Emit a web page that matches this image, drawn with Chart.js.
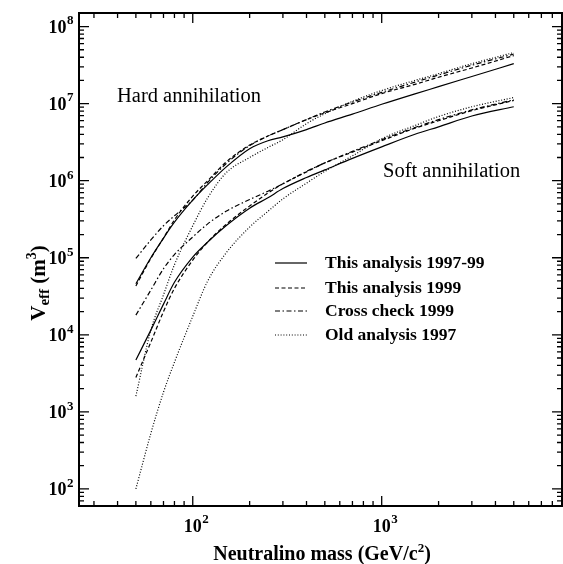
<!DOCTYPE html>
<html>
<head>
<meta charset="utf-8">
<script src="https://cdn.jsdelivr.net/npm/chart.js@4.4.0/dist/chart.umd.min.js"></script>
<style>
  html, body { margin: 0; padding: 0; background: #fff; }
  #wrap { width: 563px; height: 564px; position: relative; }
</style>
</head>
<body>
<div id="wrap"><canvas id="veff"></canvas></div>
<script>
const masses = [50, 60, 70, 80, 100, 120, 150, 200, 250, 300, 400, 500, 700, 1000, 1500, 2000, 3000, 5000];

// effective volume (m^3), hard annihilation channel
const hardThis9799 = [4.6e4, 1.0e5, 1.8e5, 2.9e5, 5.6e5, 8.9e5, 1.5e6, 2.6e6, 3.3e6, 3.7e6, 4.6e6, 5.6e6, 7.3e6, 9.8e6, 1.34e7, 1.66e7, 2.25e7, 3.3e7];
const hardThis99   = [4.3e4, 9.8e4, 1.8e5, 3.1e5, 6.3e5, 1.0e6, 1.74e6, 2.9e6, 3.8e6, 4.6e6, 6.2e6, 7.6e6, 1.0e7, 1.35e7, 1.78e7, 2.2e7, 2.9e7, 4.2e7];
const hardCross99  = [9.8e4, 1.7e5, 2.6e5, 3.5e5, 5.6e5, 9.5e5, 1.66e6, 2.85e6, 3.8e6, 4.6e6, 6.2e6, 7.8e6, 1.05e7, 1.4e7, 1.9e7, 2.35e7, 3.15e7, 4.4e7];
const hardOld97    = [1.6e3, 1.15e4, 3.3e4, 8.1e4, 2.6e5, 6.0e5, 1.26e6, 2.0e6, 2.7e6, 3.4e6, 5.5e6, 7.4e6, 1.07e7, 1.48e7, 2.0e7, 2.45e7, 3.3e7, 4.6e7];

// effective volume (m^3), soft annihilation channel
const softThis9799 = [4.7e3, 1.15e4, 2.5e4, 4.8e4, 1.02e5, 1.6e5, 2.6e5, 4.4e5, 6.0e5, 7.9e5, 1.1e6, 1.38e6, 1.95e6, 2.75e6, 4.0e6, 5.0e6, 6.9e6, 9.1e6];
const softThis99   = [2.8e3, 8.0e3, 2.0e4, 4.0e4, 9.3e4, 1.6e5, 2.7e5, 4.7e5, 6.9e5, 9.1e5, 1.3e6, 1.7e6, 2.35e6, 3.3e6, 4.8e6, 6.0e6, 8.1e6, 1.1e7];
const softCross99  = [1.8e4, 3.8e4, 7.2e4, 1.1e5, 1.86e5, 2.75e5, 4.0e5, 5.7e5, 7.3e5, 9.1e5, 1.32e6, 1.7e6, 2.4e6, 3.4e6, 4.9e6, 6.2e6, 8.3e6, 1.12e7];
const softOld97    = [100, 525, 1.8e3, 4.4e3, 1.74e4, 5.0e4, 1.15e5, 2.5e5, 4.0e5, 5.8e5, 9.3e5, 1.32e6, 2.1e6, 3.5e6, 5.2e6, 6.8e6, 9.1e6, 1.2e7];

const seriesNames = ['This analysis 1997-99', 'This analysis 1999', 'Cross check 1999', 'Old analysis 1997'];

// axis ranges and labelled powers of ten
const xRange = [25, 9000];
const yRange = [60, 1.5e8];
const xPowers = [2, 3];
const yPowers = [2, 3, 4, 5, 6, 7, 8];

const SERIF = "'Liberation Serif', 'Times New Roman', serif";
const dashes = [[], [4, 2.5], [5, 2.5, 1.5, 2.5], [1, 1.8]];

const groups = [
  [hardThis9799, hardThis99, hardCross99, hardOld97],
  [softThis9799, softThis99, softCross99, softOld97]
];
const datasets = [];
groups.forEach((g, gi) => {
  g.forEach((vals, i) => {
    datasets.push({
      label: seriesNames[i] + (gi ? ' (soft)' : ' (hard)'),
      data: masses.map((m, k) => ({ x: m, y: vals[k] })),
      borderColor: '#000',
      borderWidth: 1.2,
      borderDash: dashes[i],
      pointRadius: 0,
      fill: false,
      cubicInterpolationMode: 'monotone'
    });
  });
});

// draws "10" with a raised exponent
function pow10(ctx, exp, x, y, align) {
  ctx.font = 'bold 18px ' + SERIF;
  const wb = ctx.measureText('10').width;
  ctx.font = 'bold 13px ' + SERIF;
  const we = ctx.measureText(String(exp)).width;
  let x0 = align === 'right' ? x - wb - we : x - wb / 2;
  ctx.textAlign = 'left';
  ctx.textBaseline = 'middle';
  ctx.font = 'bold 18px ' + SERIF;
  ctx.fillText('10', x0, y);
  ctx.font = 'bold 13px ' + SERIF;
  ctx.fillText(String(exp), x0 + wb + 0.5, y - 7);
}

// draws a run of text pieces (size, vertical shift) centred at 0,0
function rich(ctx, parts) {
  let w = 0;
  parts.forEach(p => { ctx.font = 'bold ' + p.s + 'px ' + SERIF; p.w = ctx.measureText(p.t).width; w += p.w; });
  let x = -w / 2;
  ctx.textAlign = 'left';
  ctx.textBaseline = 'alphabetic';
  parts.forEach(p => {
    ctx.font = 'bold ' + p.s + 'px ' + SERIF;
    ctx.fillText(p.t, x, 7 + (p.dy || 0));
    x += p.w;
  });
}

function logTicks(min, max) {
  const out = [];
  for (let d = Math.floor(Math.log10(min)); d <= Math.ceil(Math.log10(max)); d++) {
    for (let k = 1; k < 10; k++) {
      const v = k * Math.pow(10, d);
      if (v >= min && v <= max) out.push({ v, major: k === 1 });
    }
  }
  return out;
}

const framePlugin = {
  id: 'frame',
  afterDraw(chart) {
    const { ctx, chartArea: a, scales: { x, y } } = chart;
    ctx.save();
    ctx.strokeStyle = '#000';
    ctx.fillStyle = '#000';

    // inward ticks on all four sides
    ctx.lineWidth = 1.3;
    ctx.beginPath();
    logTicks(xRange[0], xRange[1]).forEach(t => {
      const px = x.getPixelForValue(t.v);
      const len = t.major ? 10 : 5;
      ctx.moveTo(px, a.bottom); ctx.lineTo(px, a.bottom - len);
      ctx.moveTo(px, a.top); ctx.lineTo(px, a.top + len);
    });
    logTicks(yRange[0], yRange[1]).forEach(t => {
      const py = y.getPixelForValue(t.v);
      const len = t.major ? 10 : 5;
      ctx.moveTo(a.left, py); ctx.lineTo(a.left + len, py);
      ctx.moveTo(a.right, py); ctx.lineTo(a.right - len, py);
    });
    ctx.stroke();

    ctx.lineWidth = 2;
    ctx.strokeRect(a.left, a.top, a.right - a.left, a.bottom - a.top);

    // tick labels
    xPowers.forEach(p => pow10(ctx, p, x.getPixelForValue(Math.pow(10, p)), a.bottom + 21, 'center'));
    yPowers.forEach(p => pow10(ctx, p, a.left - 6, y.getPixelForValue(Math.pow(10, p)) + 1.5, 'right'));

    // axis titles
    ctx.save();
    ctx.translate(322, 553);
    rich(ctx, [{ t: 'Neutralino mass (GeV/c', s: 20 }, { t: '2', s: 13, dy: -8 }, { t: ')', s: 20 }]);
    ctx.restore();
    ctx.save();
    ctx.translate(38, 283);
    ctx.rotate(-Math.PI / 2);
    rich(ctx, [{ t: 'V', s: 21 }, { t: 'eff', s: 15, dy: 4 }, { t: ' (m', s: 21 }, { t: '3', s: 14, dy: -9 }, { t: ')', s: 21 }]);
    ctx.restore();

    // channel annotations
    ctx.font = '20.5px ' + SERIF;
    ctx.textAlign = 'left';
    ctx.textBaseline = 'middle';
    ctx.fillText('Hard annihilation', 117, 97);
    ctx.fillText('Soft annihilation', 383, 172);

    // legend
    const rows = [263, 288, 311, 335];
    seriesNames.forEach((name, i) => {
      ctx.lineWidth = 1.2;
      ctx.setLineDash(dashes[i]);
      ctx.beginPath();
      ctx.moveTo(275, rows[i]); ctx.lineTo(307, rows[i]);
      ctx.stroke();
      ctx.setLineDash([]);
      ctx.font = 'bold 17.5px ' + SERIF;
      ctx.fillText(name, 325, rows[i]);
    });
    ctx.restore();
  }
};

new Chart(document.getElementById('veff'), {
  type: 'line',
  data: { datasets },
  options: {
    responsive: true,
    maintainAspectRatio: false,
    animation: false,
    layout: { padding: { left: 79, top: 13, right: 1, bottom: 58 } },
    plugins: { legend: { display: false }, tooltip: { enabled: false } },
    scales: {
      x: { type: 'logarithmic', min: xRange[0], max: xRange[1], display: false },
      y: { type: 'logarithmic', min: yRange[0], max: yRange[1], display: false }
    }
  },
  plugins: [framePlugin]
});
</script>
</body>
</html>
